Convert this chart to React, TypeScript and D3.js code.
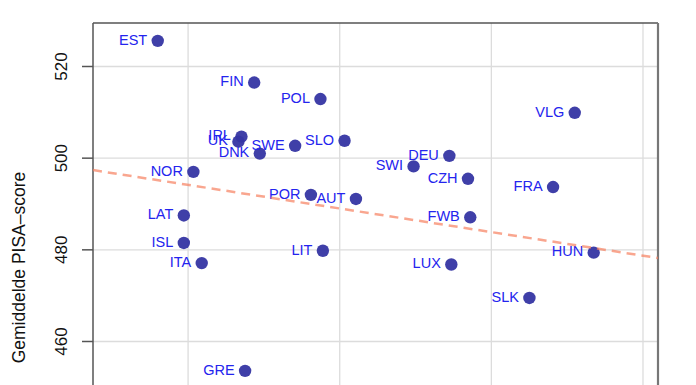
import React from "react";
import * as d3 from "d3";

const countries = ["EST","FIN","POL","IRL","UK","DNK","SWE","SLO","NOR","POR","AUT","LAT","ISL","ITA","LIT","GRE","DEU","SWI","CZH","VLG","FRA","FWB","HUN","LUX","SLK"];
const xValues = [8.0,14.36,18.73,13.52,13.32,14.73,17.06,20.32,10.35,18.1,21.07,9.72,9.72,10.9,18.89,13.76,27.23,24.87,28.46,35.5,34.07,28.61,36.75,27.36,32.51];
const scores = [525.6,516.5,512.9,504.7,503.6,501.0,502.7,503.8,497.0,492.0,491.1,487.5,481.5,477.1,479.8,453.6,500.5,498.2,495.5,509.9,493.7,487.1,479.4,476.8,469.5];
const yTicks = [460, 480, 500, 520];
const xGrid = [10, 20, 30, 40];
const trendIntercept = 499.32;
const trendSlope = -0.515;
const yTitle = "Gemiddelde PISA\u2013score";

const W = 696, H = 385;
const left = 93, right = 658, top = 23, bottom = 512;

export default function App() {
  const x = d3.scaleLinear().domain([3.73, 40.99]).range([left, right]);
  const y = d3.scaleLinear().domain([422.8, 529.49]).range([bottom, top]);
  const font = "'Liberation Sans', Arial, Helvetica, sans-serif";
  const xs = x.domain();
  const line = d3.line<number>().x(v => x(v)).y(v => y(trendIntercept + trendSlope * v));
  return (
    <svg width={W} height={H} style={{ position: "absolute", left: 0, top: 0 }} fontFamily={font}>
      <defs>
        <clipPath id="plot"><rect x={left} y={top} width={right - left} height={bottom - top} /></clipPath>
      </defs>
      {xGrid.map(v => (
        <line key={"gx" + v} x1={x(v)} x2={x(v)} y1={top} y2={bottom} stroke="#dcdcdc" strokeWidth={1.3} />
      ))}
      {yTicks.map(v => (
        <line key={"gy" + v} x1={left} x2={right} y1={y(v)} y2={y(v)} stroke="#dcdcdc" strokeWidth={1.3} />
      ))}
      <line x1={left} x2={right} y1={top} y2={top} stroke="#555" strokeWidth={1.5} />
      <line x1={left} x2={left} y1={top} y2={bottom} stroke="#555" strokeWidth={1.5} />
      <line x1={right} x2={right} y1={top} y2={bottom} stroke="#777" strokeWidth={2.2} />
      {yTicks.map(v => (
        <g key={"t" + v}>
          <line x1={left - 11} x2={left} y1={y(v)} y2={y(v)} stroke="#555" strokeWidth={1.5} />
          <text transform={`translate(${67},${y(v)}) rotate(-90)`} textAnchor="middle" fontSize={17} fill="#111">{v}</text>
        </g>
      ))}
      <text transform={`translate(${25},${267.5}) rotate(-90)`} textAnchor="middle" fontSize={17.5} fill="#111">{yTitle}</text>
      {countries.map((c, i) => (
        <circle key={"p" + c} cx={x(xValues[i])} cy={y(scores[i])} r={6.2} fill="#3535a3" fillOpacity={0.95} />
      ))}
      {countries.map((c, i) => (
        <text key={"l" + c} x={x(xValues[i]) - 10.5} y={y(scores[i]) + 3.8} textAnchor="end" fontSize={14.5} fill="#2424ee">{c}</text>
      ))}
      <path d={line([xs[0], xs[1]]) || ""} clipPath="url(#plot)" fill="none" stroke="#f7805f" strokeOpacity={0.7} strokeWidth={2.5} strokeDasharray="9,6" />
    </svg>
  );
}
